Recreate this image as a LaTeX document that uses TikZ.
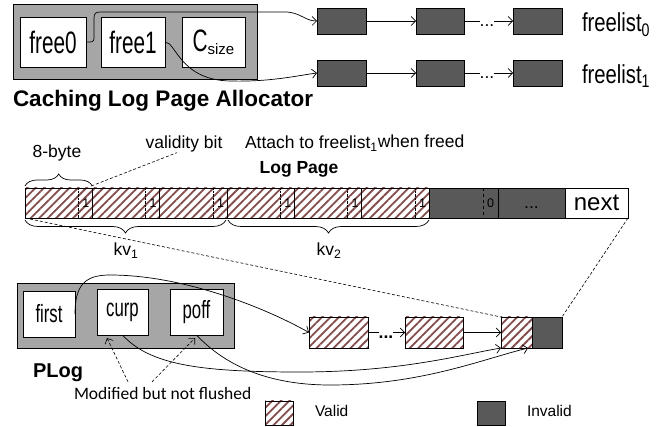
\documentclass[tikz,border=0pt]{standalone}
\usepackage{fontspec}
\setmainfont{Liberation Sans}
\newfontfamily\fieldfont[FakeStretch=0.67]{Liberation Sans}
\newfontfamily\listfont[FakeStretch=0.78]{Liberation Sans}
\newfontfamily\notefont{Carlito}
\usetikzlibrary{arrows.meta,patterns.meta,decorations.pathreplacing,calc}

\definecolor{framegray}{HTML}{A6A6A6}
\definecolor{invalidgray}{HTML}{595959}
\definecolor{hatchred}{RGB}{132,76,76}

\newcommand\fs[1]{\fontsize{#1}{#1}\selectfont}

\tikzset{
  every node/.style={inner sep=0pt, outer sep=0pt},
  conn/.style={line width=0.7pt, -{Straight Barb[length=4.5pt,width=9pt]}},
  link/.style={line width=0.7pt},
  note/.style={line width=0.6pt, dash pattern=on 3pt off 2pt},
  notearrow/.style={note, -{Straight Barb[length=4.5pt,width=9pt]}},
  bracestyle/.style={line width=0.7pt, decorate},
  frame/.style={draw, line width=0.9pt, fill=framegray},
  field/.style={draw, line width=0.9pt, fill=white, font=\fieldfont\fs{31}, minimum height=50pt},
  pfield/.style={draw, line width=0.9pt, fill=white, font=\fieldfont\fs{25}, minimum width=52pt, minimum height=46pt},
  listbox/.style={draw, line width=0.9pt, fill=invalidgray, minimum width=49pt, minimum height=26pt},
  hatched/.style={draw, line width=0.9pt, pattern={Lines[angle=45,distance=6pt,line width=1.8pt]}, pattern color=hatchred},
  invalid/.style={draw, line width=0.9pt, fill=invalidgray},
  lpcell/.style={minimum height=30pt},
  bitlbl/.style={font=\fs{12.5}},
  lbl/.style={font=\fs{17.5}},
}

\begin{document}
\begin{tikzpicture}[x=1pt,y=-1pt]
\fill[white] (0,0) rectangle (664,427);
\useasboundingbox (0,0) rectangle (664,427);

% ---- caching log page allocator ----
\node[frame, minimum width=244pt, minimum height=75pt] (alloc) at (135,41.5) {};
\node[field, minimum width=66pt] (free0) at (53,42) {free0};
\node[field, minimum width=64pt] (free1) at (133,42) {free1};
\node[field, minimum width=63pt] (csize) at (213.5,42) {C{\rmfamily\fs{15}\raisebox{-3pt}{size}}};
\node[font=\bfseries\fs{22.5}, anchor=base west] (alloccap) at (13,107) {Caching Log Page Allocator};

% free lists
\foreach \r/\y in {0/21,1/73} {
  \node[listbox] (fa\r) at (341.5,\y) {};
  \node[listbox, minimum width=48pt] (fb\r) at (440,\y) {};
  \node[listbox] (fc\r) at (537.5,\y) {};
  \node[lbl, anchor=base] (fd\r) at (487,\y+6) {...};
  \draw[conn] (fa\r) -- (fb\r);
  \draw[link] (fb\r.east) -- (fd\r.west |- fb\r.east);
  \draw[conn] (fd\r.east |- fc\r.west) -- (fc\r.west);
  \node[font=\listfont\fs{26}, anchor=base west] (fl\r) at (582,\y+11) {freelist\textsubscript{\r}};
}

\draw[conn] (free0.east) -- (90,42) .. controls (94,42) and (94,40) .. (94,36) -- (94,18)
  .. controls (94,13) and (96,12) .. (101,12) -- (285,12) .. controls (300,12) and (305,21) .. (fa0.west);
\draw[conn] (free1.east) .. controls (176,42) and (180,80) .. (230,81)
  .. controls (270,82) and (295,76) .. (fa1.west);

% ---- log page ----
\foreach \i in {1,...,6} {
  \node[hatched, lpcell, minimum width=67.33pt] (c\i) at ({25+67.33*(\i-0.5)},203) {};
  \draw[line width=0.4pt, densely dotted] ($(c\i.north east)+(-14,0)$) -- ($(c\i.south east)+(-14,0)$);
  \node[bitlbl] (b\i) at ($(c\i.east)+(-6.5,0)$) {1};
}
\node[invalid, lpcell, minimum width=69pt] (d1) at (463.5,203) {};
\draw[dashed, line width=0.6pt] ($(d1.north east)+(-15,0)$) -- ($(d1.south east)+(-15,0)$);
\node[bitlbl] (b0) at ($(d1.east)+(-7.5,0)$) {0};
\node[invalid, lpcell, minimum width=67pt, font=\fs{17.5}, text height=12pt, text depth=0pt] (d2) at (531.5,203) {...};
\node[draw, line width=0.9pt, fill=white, lpcell, minimum width=63pt, font=\fs{24}] (nx) at (596.5,203) {next};

\node[lbl, anchor=base] (eightb) at (57,158) {8-byte};
\node[lbl, anchor=base] (vbit) at (184,149) {validity bit};
\node[lbl, anchor=base west] (attach) at (245,149) {Attach to freelist\textsubscript{1}\raisebox{1.5pt}{when freed}};
\node[font=\bfseries\fs{17.5}, anchor=base] (lpcap) at (299,174) {Log Page};

\draw[bracestyle, decoration={brace, amplitude=12pt}] ($(c1.north west)+(0,-2)$) -- ($(c1.north east)+(0,-2)$);
\draw[note] ($(c1.north east)+(-1,-2)$) -- ($(vbit.south)+(-7,0)$);
\draw[bracestyle, decoration={brace, mirror, amplitude=13pt}] ($(c1.south west)+(0,2)$) -- ($(c3.south east)+(-1,2)$);
\node[lbl, anchor=base] (kv1) at (126,256) {kv\textsubscript{1}};
\draw[bracestyle, decoration={brace, mirror, amplitude=13pt}] ($(c4.south west)+(1,2)$) -- ($(c6.south east)+(0,2)$);
\node[lbl, anchor=base] (kv2) at (329,256) {kv\textsubscript{2}};

% ---- PLog ----
\node[frame, minimum width=217pt, minimum height=65pt] (plog) at (125.5,315.5) {};
\node[pfield] (first) at (49,314) {first};
\node[pfield, minimum width=51pt] (curp) at (122.5,312) {curp};
\node[pfield, minimum width=53pt] (poff) at (196.5,312) {poff};
\node[font=\bfseries\fs{20}, anchor=base west] (plogcap) at (33,378) {PLog};
\node[font=\notefont\fs{17.5}, anchor=base west] (mnote) at (74,400) {Modified but not flushed};

\node[hatched, minimum width=59pt, minimum height=31pt] (h1) at (338.5,332.5) {};
\node[hatched, minimum width=58pt, minimum height=31pt] (h2) at (434,332.5) {};
\node[hatched, minimum width=31pt, minimum height=31pt] (tailok) at (516.5,332.5) {};
\node[invalid, minimum width=30pt, minimum height=31pt] (tailbad) at (547,332.5) {};
\node[font=\bfseries\fs{17.5}, anchor=base] (hdots) at (386,339) {...};
\draw[link] (h1.east) -- (hdots.west |- h1.east);
\draw[conn] (hdots.east |- h2.west) -- (h2.west);
\draw[conn] (h2) -- (tailok);

\draw[note] (c1.south west) -- (tailok.north west);
\draw[note] (nx.south east) -- (tailbad.north east);

\draw[conn] (first.east) .. controls (75,285) and (85,275) .. (110,275)
  .. controls (180,275) and (260,305) .. (h1.west);
\draw[conn] (curp.south) .. controls (150,365) and (200,372) .. (300,372)
  .. controls (400,372) and (460,355) .. (tailok.south west);
\draw[conn] (poff.south) .. controls (220,360) and (260,385) .. (330,385)
  .. controls (420,385) and (480,360) .. ($(tailok.south east)+(-4,0)$);

\draw[notearrow] ($(mnote.north west)+(54,-6)$) -- ($(curp.south west)+(10,3)$);
\draw[notearrow] ($(mnote.north west)+(78,-6)$) -- ($(poff.south)+(-1.5,3)$);

% ---- legend ----
\node[hatched, minimum width=28pt, minimum height=24pt] (lgv) at (279,413) {};
\node[font=\fs{15.5}, anchor=base west] (lgvt) at (315,417) {Valid};
\node[invalid, minimum width=28pt, minimum height=24pt] (lgi) at (491,413) {};
\node[font=\fs{15.5}, anchor=base west] (lgit) at (527,417) {Invalid};
\end{tikzpicture}
\end{document}
